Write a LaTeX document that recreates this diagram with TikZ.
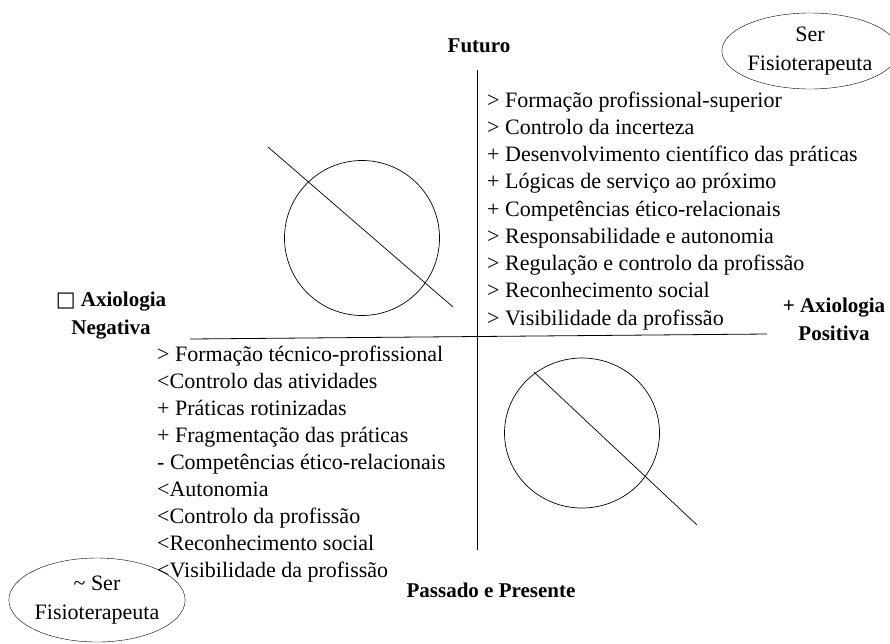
\documentclass[tikz,border=0pt]{standalone}
\usepackage{fontspec}
\setmainfont{Liberation Serif}
\newfontfamily\symfont{DejaVu Sans}
\usetikzlibrary{shapes.geometric,positioning}

\tikzset{
  item/.style={inner sep=0pt, anchor=base west, font=\fontsize{22}{27}\selectfont},
  axlabel/.style={inner sep=0pt, align=center, font=\fontsize{21}{28}\selectfont\bfseries},
  ser/.style={draw, ellipse, inner sep=0pt, align=center, font=\fontsize{22}{29}\selectfont},
  axis/.style={line width=0.8pt},
  thin/.style={line width=0.7pt}
}

\begin{document}
\begin{tikzpicture}[x=1pt,y=-1pt]
\useasboundingbox (0,0) rectangle (890,643);

% axes
\coordinate (top) at (477,70);
\coordinate (bottom) at (477,550);
\coordinate (left) at (190,339);
\coordinate (right) at (767,334);
\draw[axis] (top) -- (bottom);
\draw[axis] (left) -- (right);

% labels of the axes
\node[axlabel, anchor=base] (Futuro) at (479,52) {Futuro};
\node[axlabel, anchor=base] (Passado) at (491,597) {Passado e Presente};
\node[axlabel] (Negativa) at (111,316) {{\symfont\mdseries □} Axiologia\\Negativa};
\node[axlabel] (Positiva) at (834,319) {+ Axiologia\\Positiva};

% being a physiotherapist
\node[ser, minimum width=170, minimum height=76] (SerFisio) at (810,51) {Ser\\Fisioterapeuta};
\node[ser, minimum width=171, minimum height=84] (QuaseFisio) at (97,600) {\textasciitilde{} Ser\\Fisioterapeuta};

% upper quadrant
\foreach \t [count=\i] in {> Formação profissional-superior, > Controlo da incerteza,
  + Desenvolvimento científico das práticas, + Lógicas de serviço ao próximo,
  + Competências ético-relacionais, > Responsabilidade e autonomia,
  > Regulação e controlo da profissão, > Reconhecimento social,
  > Visibilidade da profissão}
  \node[item] (up\i) at (487,{107+27.25*(\i-1)}) {\t};

% lower quadrant
\foreach \t [count=\i] in {> Formação técnico-profissional, <Controlo das atividades,
  + Práticas rotinizadas, + Fragmentação das práticas,
  - Competências ético-relacionais, <Autonomia,
  <Controlo da profissão, <Reconhecimento social,
  <Visibilidade da profissão}
  \node[item] (low\i) at (157,{361+27*(\i-1)}) {\t};

% crossed circles
\node[draw, thin, circle, minimum size=155, inner sep=0pt] (CircUp) at (362,238) {};
\coordinate (CutUpA) at (268,147);
\coordinate (CutUpB) at (453,307);
\draw[thin] (CutUpA) -- (CutUpB);

\node[draw, thin, ellipse, minimum width=155, minimum height=150, inner sep=0pt] (CircLow) at (582,433) {};
\coordinate (CutLowA) at (534,372);
\coordinate (CutLowB) at (697,525);
\draw[thin] (CutLowA) -- (CutLowB);
\end{tikzpicture}
\end{document}
